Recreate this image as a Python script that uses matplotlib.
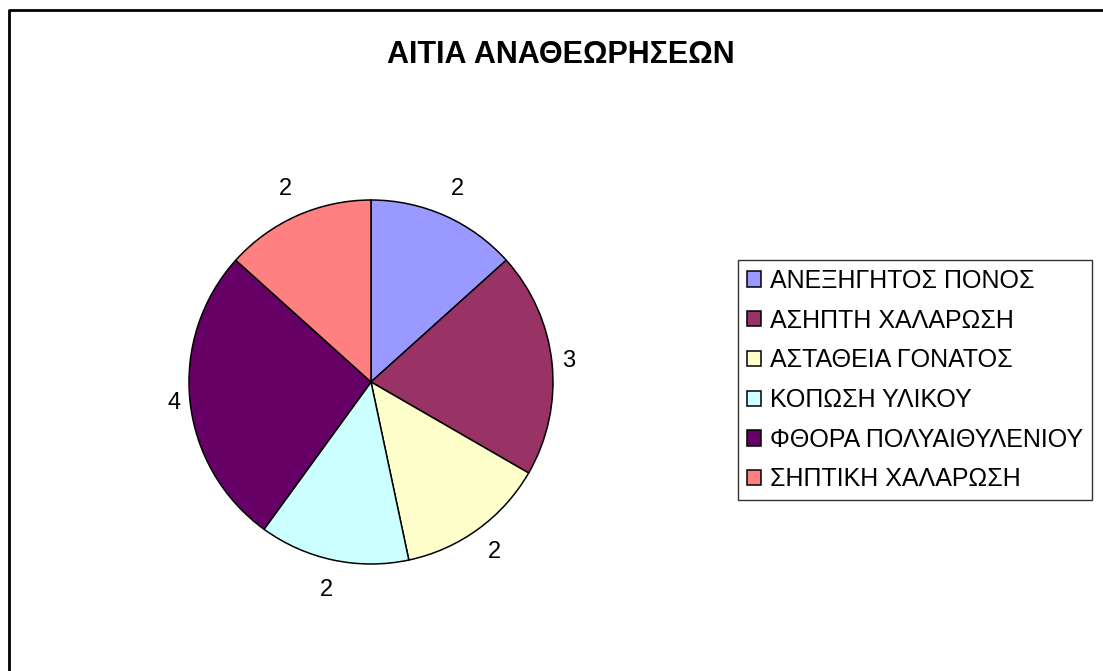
import numpy as np
import matplotlib.pyplot as plt
from matplotlib.lines import Line2D

plt.rcParams['font.family'] = ['Liberation Sans', 'DejaVu Sans']

# revision causes and counts
causes = ['ΑΝΕΞΗΓΗΤΟΣ ΠΟΝΟΣ', 'ΑΣΗΠΤΗ ΧΑΛΑΡΩΣΗ', 'ΑΣΤΑΘΕΙΑ ΓΟΝΑΤΟΣ',
          'ΚΟΠΩΣΗ ΥΛΙΚΟΥ', 'ΦΘΟΡΑ ΠΟΛΥΑΙΘΥΛΕΝΙΟΥ', 'ΣΗΠΤΙΚΗ ΧΑΛΑΡΩΣΗ']
counts = [2, 3, 2, 2, 4, 2]
colors = ['#9999FF', '#993366', '#FFFFCC', '#CCFFFF', '#660066', '#FF8080']

W, H = 1103, 671
fig = plt.figure(figsize=(W/100, H/100), dpi=100)

# pie centre (371, 382) px, radius 182 px
R = 182.0
lim = 1.4
side = 2*lim*R
cx, cy = 371, H - 382
ax = fig.add_axes([(cx - side/2)/W, (cy - side/2)/H, side/W, side/H])

wedges, _ = ax.pie(counts, colors=colors, startangle=90, counterclock=False,
                   wedgeprops=dict(edgecolor='black', linewidth=1.1))
ax.set_xlim(-lim, lim)
ax.set_ylim(-lim, lim)
ax.set_aspect('equal')
ax.axis('off')

# value labels just outside each wedge
for w, v in zip(wedges, counts):
    ang = np.deg2rad((w.theta1 + w.theta2)/2)
    d = 1.08 + 0.09*abs(np.sin(ang))
    ax.text(d*np.cos(ang), d*np.sin(ang), str(v), ha='center', va='center',
            fontsize=17)

fig.text(561/W, 1 - 55/H, 'ΑΙΤΙΑ ΑΝΑΘΕΩΡΗΣΕΩΝ', ha='center', va='center',
         fontsize=22, fontweight='bold')

leg = fig.legend(wedges, causes, loc='upper left',
                 bbox_to_anchor=(738/W, 1 - 260/H), borderaxespad=0,
                 fontsize=18, frameon=True, fancybox=False, edgecolor='black',
                 handlelength=0.56, handleheight=0.56, handletextpad=0.36,
                 labelspacing=0.63, borderpad=0.35)
leg.get_frame().set_linewidth(1.0)

# outer chart border (left and top edges)
fig.add_artist(Line2D([9/W, 9/W, 1.0], [0.0, 1 - 10/H, 1 - 10/H],
                      transform=fig.transFigure, color='black', linewidth=2))

fig.savefig('out.png', dpi=100, facecolor='white')
